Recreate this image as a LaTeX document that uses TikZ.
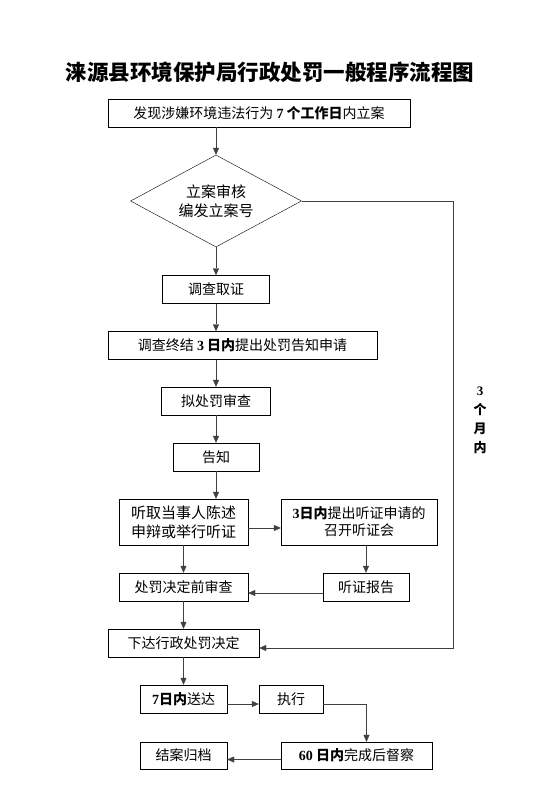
\documentclass[tikz,border=0pt]{standalone}
\usepackage{fontspec}
\usepackage{tikz}
\usetikzlibrary{arrows.meta,calc,shapes.geometric}
\setmainfont{Noto Sans CJK SC}
\newfontfamily\numfont{Liberation Serif}
\newcommand{\bnum}[1]{{\numfont\bfseries #1}}

\begin{document}
\begin{tikzpicture}[x=1pt,y=-1pt,
  box/.style={draw,rectangle,inner sep=0pt,minimum height=28pt,font=\fontsize{14}{17}\selectfont},
  link/.style={draw=black!75,-{Triangle[length=7pt,width=6pt]}}]
  \useasboundingbox (0,0) rectangle (549,793);
  \node[font=\fontsize{21.5}{26}\selectfont\bfseries] (title) at (270,72) {涞源县环境保护局行政处罚一般程序流程图};
  \node[box,minimum width=302pt] (find) at (259,113) {发现涉嫌环境违法行为 \bnum{7} \textbf{个工作日}内立案};
  \node[box,diamond,aspect=1.86,minimum width=171pt,minimum height=92pt,align=center,font=\fontsize{15}{19}\selectfont] (audit) at (216,201) {立案审核\\编发立案号};
  \node[box,minimum width=107pt] (collect) at (216,289.5) {调查取证};
  \node[box,minimum width=269pt] (conclude) at (242.5,345.5) {调查终结 \bnum{3} \textbf{日内}提出处罚告知申请};
  \node[box,minimum width=109pt] (draft) at (216,401) {拟处罚审查};
  \node[box,minimum width=86pt] (inform) at (216,457) {告知};
  \node[box,minimum width=129pt,minimum height=46pt,align=center,font=\fontsize{15}{19}\selectfont] (hear) at (183.5,522) {听取当事人陈述\\申辩或举行听证};
  \node[box,minimum width=156pt,minimum height=46pt,align=center] (meeting) at (359,522) {\bnum{3}\textbf{日内}提出听证申请的\\召开听证会};
  \node[box,minimum width=129pt] (precheck) at (183.5,587) {处罚决定前审查};
  \node[box,minimum width=86pt] (hreport) at (366,587) {听证报告};
  \node[box,minimum width=151pt] (decide) at (183.5,643) {下达行政处罚决定};
  \node[box,minimum width=87pt] (deliver) at (183.5,699) {\bnum{7}\textbf{日内}送达};
  \node[box,minimum width=64pt] (execute) at (291,699) {执行};
  \node[box,minimum width=151pt,minimum height=27pt] (supervise) at (356.5,755.5) {\bnum{60} \textbf{日内}完成后督察};
  \node[box,minimum width=87pt,minimum height=27pt] (archive) at (183.5,755.5) {结案归档};
  \node[font=\fontsize{13}{19}\selectfont\bfseries,align=center] (months) at (480,420) {\bnum{3}\\个\\月\\内};
  \coordinate (corner) at (453,201);
  \draw[link] (audit.north |- find.south) -- (audit.north);
  \draw[link] (audit.south) -- (collect.north);
  \draw[link] (collect.south) -- (collect.south |- conclude.north);
  \draw[link] (draft.north |- conclude.south) -- (draft.north);
  \draw[link] (draft.south) -- (inform.north);
  \draw[link] (inform.south) -- (inform.south |- hear.north);
  \draw[link] ([yshift=-6pt]hear.east) -- ([yshift=-6pt]meeting.west);
  \draw[link] (hear.south) -- (precheck.north);
  \draw[link] (hreport.north |- meeting.south) -- (hreport.north);
  \draw[link] ([yshift=-6pt]hreport.west) -- ([yshift=-6pt]precheck.east);
  \draw[link] (precheck.south) -- (decide.north);
  \draw[link] (audit.east) -- (corner) |- ([yshift=-5pt]decide.east);
  \draw[link] (decide.south) -- (deliver.north);
  \draw[link] ([yshift=-5pt]deliver.east) -- ([yshift=-5pt]execute.west);
  \draw[link] ([yshift=-5pt]execute.east) -| ([xshift=10pt]supervise.north);
  \draw[link] ([yshift=-4pt]supervise.west) -- ([yshift=-4pt]archive.east);
\end{tikzpicture}
\end{document}
